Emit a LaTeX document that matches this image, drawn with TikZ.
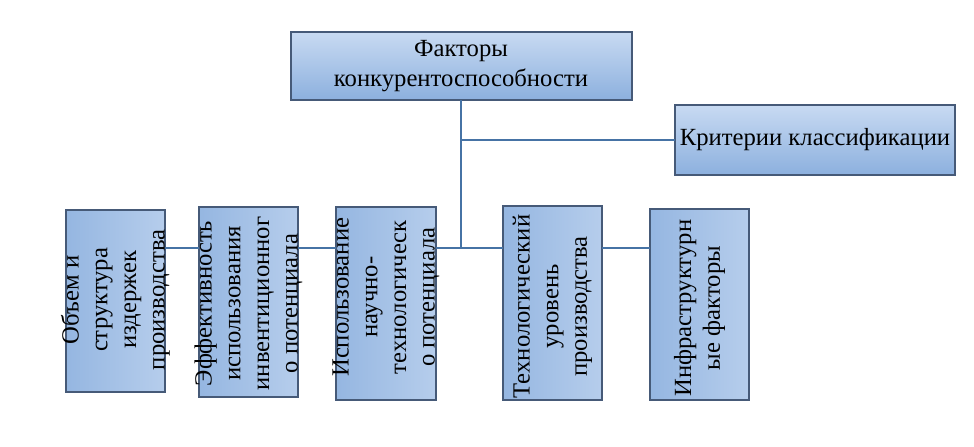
\documentclass[tikz,border=0pt]{standalone}
\usepackage{fontspec}
\setmainfont{Liberation Serif}
\definecolor{lt}{RGB}{200,218,242}
\definecolor{dk}{RGB}{140,176,222}
\definecolor{bd}{RGB}{70,90,120}
\definecolor{lc}{RGB}{70,115,165}
\begin{document}
\begin{tikzpicture}[x=0.75pt,y=-0.75pt,
 box/.style={draw=bd,line width=0.8pt,top color=lt,bottom color=dk},
 vbox/.style={draw=bd,line width=0.8pt,left color=dk!85!lt,right color=lt!70!dk},
 ln/.style={draw=lc,line width=1.6pt},
 vt/.style={rotate=90,anchor=east,align=center,font=\fontsize{18.5}{21.5}\selectfont},
 ht/.style={align=center,font=\fontsize{18.5}{22}\selectfont}]
\useasboundingbox (0,0) rectangle (974,446);
\filldraw[box] (291,32) rectangle (632,100);
\node[ht] (top) at (461,66) {Факторы\\конкурентоспособности};
\filldraw[box] (675,105) rectangle (955,175);
\node[ht] (crit) at (815,140) {Критерии классификации};
\coordinate (t1) at (461,100);
\coordinate (j) at (461,140);
\coordinate (cl) at (675,140);
\coordinate (jb) at (461,248);
\foreach \n/\xa/\ya/\xb/\yb/\ty/\txt in {
 b1/66/210/165/392/225/{Объем и\\структура\\издержек\\производства},
 b2/199/207/298/397/212/{Эффективность\\использования\\инвентиционног\\о потенциала},
 b3/336/207/436/400/213/{Использование\\научно-\\технологическ\\о потенциала},
 b4/503/206/602/400/210/{Технологический\\уровень\\производства},
 b5/650/209/749/400/215/{Инфраструктурн\\ые факторы}}{
 \filldraw[vbox] (\xa,\ya) rectangle (\xb,\yb);
 \node[vt] (\n) at ({(\xa+\xb)/2},\ty) {\txt};
 \coordinate (\n l) at (\xa,248); \coordinate (\n r) at (\xb,248);
}
\draw[ln] (t1) -- (jb);
\draw[ln] (j) -- (cl);
\draw[ln] (b1r) -- (b2l);
\draw[ln] (b2r) -- (b3l);
\draw[ln] (b3r) -- (b4l);
\draw[ln] (b4r) -- (b5l);
\end{tikzpicture}
\end{document}
